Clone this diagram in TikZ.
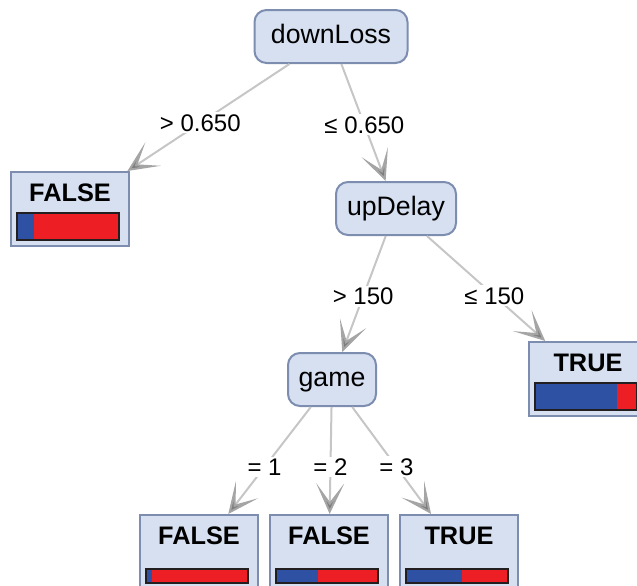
\documentclass[tikz,border=0pt]{standalone}
\usepackage{fontspec}
\setmainfont{Liberation Sans}
\usetikzlibrary{arrows.meta}
\definecolor{nodefill}{RGB}{214,224,241}
\definecolor{nodeborder}{RGB}{125,141,176}
\definecolor{edgegray}{RGB}{198,198,198}
\definecolor{arrowgray}{RGB}{125,125,125}
\definecolor{arrowline}{RGB}{165,165,165}
\definecolor{barblue}{RGB}{46,81,163}
\definecolor{barred}{RGB}{237,30,36}
\definecolor{barline}{RGB}{35,31,32}
\tikzset{branch/.style={draw=edgegray,line width=1.5pt,
  -{Stealth[length=23pt,width=21pt,inset=14pt,fill=arrowgray,color=arrowline]}}}
% #1 leaf, #2 blue part, #3 height (px)
\newcommand\probbar[3]{%
  \fill[barblue] ([shift={(7,-7)}]#1.south west) rectangle ++(#2,-#3);
  \fill[barred] ([shift={(7+#2,-7)}]#1.south west) rectangle ++(102-#2,-#3);
  \draw[barline,line width=1.5pt] ([shift={(7,-7)}]#1.south west) rectangle ++(102,-#3);}

\begin{document}
\begin{tikzpicture}[x=0.75pt,y=-0.75pt,
  split/.style={draw=nodeborder,fill=nodefill,line width=1.5pt,rounded corners=9pt,
    minimum height=39.75pt,inner sep=0pt,text height=14.5pt,text depth=4pt,
    font=\fontsize{20}{24}\selectfont},
  leaf/.style={draw=nodeborder,fill=nodefill,line width=1.5pt,minimum width=88.5pt,
    inner sep=0pt,text height=21.75pt,text depth=33.75pt,font=\fontsize{19}{23}\bfseries},
  cond/.style={fill=white,inner sep=1.5pt,font=\fontsize{18}{22}\selectfont,pos=#1},
  cond/.default=0.55]
\useasboundingbox (0,0) rectangle (637,586);
\node[split,minimum width=114.75pt] (dl) at (331,36.5) {downLoss};
\node[split,minimum width=90pt] (ud) at (396,208.5) {upDelay};
\node[split,minimum width=66pt] (gm) at (332,379.5) {game};
\node[leaf] (f1) at (70,209) {FALSE};
\node[leaf] (t1) at (588,379) {TRUE};
\foreach \t/\x[count=\i] in {FALSE/199,FALSE/329,TRUE/459}
  \node[leaf] (b\i) at (\x,552) {\t};

\draw[branch] (dl) -- node[cond=.55]{> 0.650} (f1);
\draw[branch] (dl) -- node[cond=.52]{≤ 0.650} (ud);
\draw[branch] (ud) -- node[cond=.52]{> 150} (gm);
\draw[branch] (ud) -- node[cond=.57]{≤ 150} (t1);
\foreach \i in {1,2,3}
  \draw[branch] (gm) -- node[cond=.56]{= \i} (b\i);

\probbar{f1}{17}{27}
\probbar{t1}{82}{27}
\foreach \b[count=\i] in {6,42,56}{
  \probbar{b\i}{\b}{14}}
\end{tikzpicture}
\end{document}
